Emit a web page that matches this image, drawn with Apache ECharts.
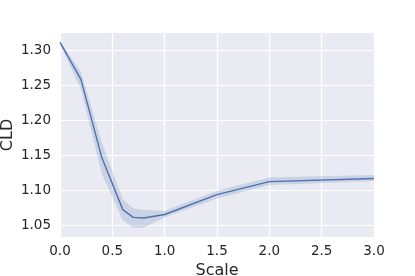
<!DOCTYPE html>
<html>
<head>
<meta charset="utf-8">
<script src="https://cdn.jsdelivr.net/npm/echarts@6/dist/echarts.min.js"></script>
<style>
html,body{margin:0;padding:0;background:#fff;}
#chart{width:415px;height:276px;}
</style>
</head>
<body>
<div id="chart"></div>
<script>
// Data
const scales = [0, 0.2, 0.4, 0.6, 0.7, 0.8, 1.0, 1.5, 2.0, 3.0];
const cldMean = [1.312, 1.259, 1.147, 1.073, 1.062, 1.061, 1.066, 1.0945, 1.113, 1.1175];
const cldUpper = [1.314, 1.270, 1.169, 1.088, 1.075, 1.073, 1.071, 1.100, 1.119, 1.1225];
const cldLower = [1.310, 1.245, 1.124, 1.058, 1.047, 1.047, 1.062, 1.089, 1.108, 1.114];
const xTicks = [0, 0.5, 1.0, 1.5, 2.0, 2.5, 3.0];
const yTicks = [1.05, 1.10, 1.15, 1.20, 1.25, 1.30];

const lineColor = '#4C72B0';
const font = 'DejaVu Sans';

const chart = echarts.init(document.getElementById('chart'), null, {renderer: 'canvas'});
chart.setOption({
  animation: false,
  backgroundColor: '#ffffff',
  grid: {
    left: 60, top: 33, right: 41, bottom: 39,
    outerBoundsMode: 'none', containLabel: false,
    show: true, backgroundColor: '#EAEAF2', borderWidth: 0
  },
  xAxis: {
    type: 'value', min: 0, max: 3, interval: 0.5,
    name: 'Scale', nameLocation: 'middle', nameGap: 26, nameMoveOverlap: false,
    nameTextStyle: {fontFamily: font, fontSize: 16, color: '#262626'},
    axisLine: {show: false}, axisTick: {show: false},
    axisLabel: {fontFamily: font, fontSize: 13.5, color: '#262626', margin: 7,
      customValues: xTicks, formatter: v => v.toFixed(1)},
    splitLine: {show: true, lineStyle: {color: '#ffffff', width: 1.2}}
  },
  yAxis: {
    type: 'value', min: 1.0339, max: 1.3253,
    name: 'CLD', nameLocation: 'middle', nameGap: 44, nameMoveOverlap: false,
    nameTextStyle: {fontFamily: font, fontSize: 16, color: '#262626'},
    axisLine: {show: false},
    axisTick: {show: false, customValues: yTicks},
    axisLabel: {fontFamily: font, fontSize: 13.5, color: '#262626', margin: 9,
      customValues: yTicks, formatter: v => v.toFixed(2)},
    splitLine: {show: true, lineStyle: {color: '#ffffff', width: 1.2}}
  },
  series: [
    {
      type: 'custom', silent: true,
      data: scales.map((x, i) => [x, cldLower[i], cldUpper[i]]),
      renderItem: function (params, api) {
        if (params.dataIndex !== 0) return null;
        const pts = [];
        for (let i = 0; i < scales.length; i++) pts.push(api.coord([scales[i], cldUpper[i]]));
        for (let i = scales.length - 1; i >= 0; i--) pts.push(api.coord([scales[i], cldLower[i]]));
        return {
          type: 'polygon',
          shape: {points: pts},
          style: {fill: lineColor, opacity: 0.2}
        };
      }
    },
    {
      type: 'line', symbol: 'none',
      data: scales.map((x, i) => [x, cldMean[i]]),
      lineStyle: {color: lineColor, width: 1.4}
    }
  ]
});
</script>
</body>
</html>
